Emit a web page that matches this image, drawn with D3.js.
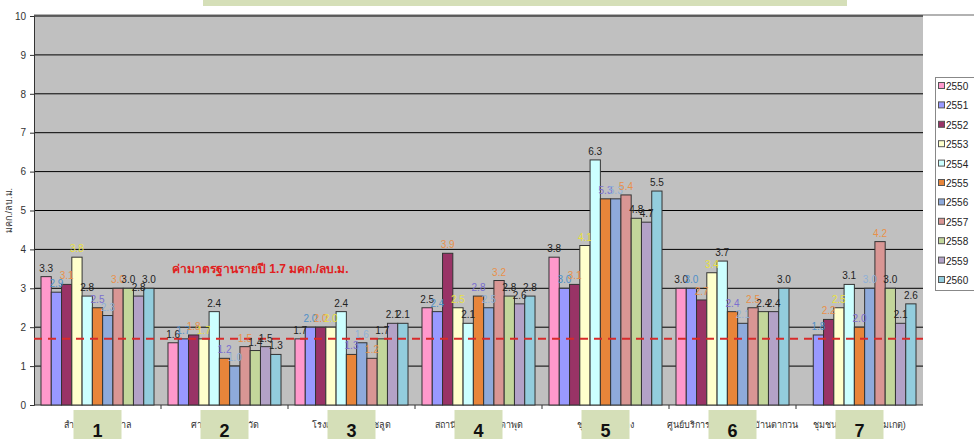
<!DOCTYPE html>
<html><head><meta charset="utf-8">
<script src="https://cdn.jsdelivr.net/npm/d3@7"></script>
<style>body{margin:0;background:#fff;}svg{display:block;font-family:"Liberation Sans",Arial,sans-serif;}</style>
</head><body>
<svg id="c" width="974" height="439"></svg>
<script>
const categories = ["สำนักงานเทศบาล","ศาลากลางจังหวัด","โรงเรียนวัดมาบชลูด","สถานีอนามัยมาบตาพุด","ชุมชนบ้านพลง","ศูนย์บริการสาธารณสุขบ้านตากวน","ชุมชนมิตรภาพ (นมเกตุ)"];
const groupNumbers = ["1","2","3","4","5","6","7"];
const years = ["2550","2551","2552","2553","2554","2555","2556","2557","2558","2559","2560"];
const v2550 = [3.3,1.6,1.7,2.5,3.8,3.0,null];
const v2551 = [2.9,1.7,2.0,2.4,3.0,3.0,1.8];
const v2552 = [3.1,1.8,2.0,3.9,3.1,2.7,2.2];
const v2553 = [3.8,1.7,2.0,2.5,4.1,3.4,2.5];
const v2554 = [2.8,2.4,2.4,2.1,6.3,3.7,3.1];
const v2555 = [2.5,1.2,1.3,2.8,5.3,2.4,2.0];
const v2556 = [2.3,1.0,1.6,2.5,5.3,2.1,3.0];
const v2557 = [3.0,1.5,1.2,3.2,5.4,2.5,4.2];
const v2558 = [3.0,1.4,1.7,2.8,4.8,2.4,3.0];
const v2559 = [2.8,1.5,2.1,2.6,4.7,2.4,2.1];
const v2560 = [3.0,1.3,2.1,2.8,5.5,3.0,2.6];
const seriesValues = [v2550,v2551,v2552,v2553,v2554,v2555,v2556,v2557,v2558,v2559,v2560];
const yTicks = [0,1,2,3,4,5,6,7,8,9,10];
const standardValue = 1.7;
const standardLabel = "ค่ามาตรฐานรายปี 1.7 มคก./ลบ.ม.";
const yTitle = "มคก./ลบ.ม.";

const barColors = ["#ff99cc","#9999ff","#993366","#ffffcc","#ccffff","#e8853a","#8eaadb","#d99694","#c3d69b","#b3a2c7","#93cddd"];
const labelColors = ["#222","#4f8fc8","#e8904a","#e8e040","#222","#7a6fd0","#8fb0d8","#e8904a","#222","#222","#222"];

const svg = d3.select("#c");
const L=34,R=923,T=16,B=405;
const x0 = d3.scaleBand().domain(categories).range([L,R]).padding(0);
const x1 = d3.scaleBand().domain(years).range([0,x0.bandwidth()]).paddingInner(0).paddingOuter(0.68);
const y = d3.scaleLinear().domain([0,10]).range([B,T]);

// top decoration
svg.append("rect").attr("x",203).attr("y",0).attr("width",644).attr("height",6).attr("fill","#d5dfb8");
// plot background
svg.append("rect").attr("x",L).attr("y",T).attr("width",R-L).attr("height",B-T).attr("fill","#c0c0c0");
svg.append("line").attr("x1",L).attr("x2",974).attr("y1",T-1).attr("y2",T-1).attr("stroke","#999").attr("stroke-width",1.5);
// gridlines
svg.append("g").selectAll("line").data(yTicks.slice(1)).join("line")
  .attr("x1",L).attr("x2",R).attr("y1",d=>y(d)).attr("y2",d=>y(d)).attr("stroke","#000").attr("stroke-width",1);

// y axis
const ya = svg.append("g").attr("transform",`translate(${L},0)`).call(d3.axisLeft(y).tickValues(yTicks).tickSize(4).tickPadding(4));
ya.select(".domain").attr("stroke","#333");
ya.selectAll("text").attr("font-size",10).attr("fill","#333").attr("font-family","Liberation Sans, Arial");
ya.selectAll(".tick line").attr("stroke","#333");
svg.append("text").attr("transform",`translate(12,${(T+B)/2}) rotate(-90)`).attr("text-anchor","middle")
  .attr("font-size",9).attr("fill","#333").text(yTitle);

// x axis
svg.append("line").attr("x1",L).attr("x2",R).attr("y1",B).attr("y2",B).attr("stroke","#333");
svg.append("g").selectAll("line").data(categories.slice(1)).join("line")
  .attr("x1",d=>x0(d)).attr("x2",d=>x0(d)).attr("y1",B).attr("y2",B+4).attr("stroke","#333");

// bars
const g = svg.append("g");
years.forEach((yr,si)=>{
  const data = categories.map((c,ci)=>({c,v:seriesValues[si][ci]})).filter(d=>d.v!=null);
  g.append("g").selectAll("rect").data(data).join("rect")
    .attr("x",d=>x0(d.c)+x1(yr)).attr("width",x1.bandwidth())
    .attr("y",d=>y(d.v)).attr("height",d=>B-y(d.v))
    .attr("fill",barColors[si]).attr("stroke","#333").attr("stroke-width",1);
});

// standard line
svg.append("line").attr("x1",L).attr("x2",R).attr("y1",y(standardValue)).attr("y2",y(standardValue))
  .attr("stroke","#d82a2a").attr("stroke-width",2).attr("stroke-dasharray","8,6");
svg.append("text").attr("x",172).attr("y",y(3.4)).attr("font-size",12).attr("font-weight","bold")
  .attr("fill","#e02020").text(standardLabel);

// labels
const lg = svg.append("g");
years.forEach((yr,si)=>{
  const data = categories.map((c,ci)=>({c,v:seriesValues[si][ci]})).filter(d=>d.v!=null);
  lg.append("g").selectAll("text").data(data).join("text")
    .attr("x",d=>x0(d.c)+x1(yr)+x1.bandwidth()/2).attr("y",d=>y(d.v)-5)
    .attr("text-anchor","middle").attr("font-size",10).attr("fill",labelColors[si])
    .text(d=>d.v.toFixed(1));
});

// category labels
svg.append("g").selectAll("text").data(categories).join("text")
  .attr("x",d=>x0(d)+x0.bandwidth()/2).attr("y",B+23).attr("text-anchor","middle")
  .attr("font-size",9).attr("fill","#333").text(d=>d);
// number boxes
const nb = svg.append("g").selectAll("g").data(categories).join("g")
  .attr("transform",d=>`translate(${x0(d)+x0.bandwidth()/2},0)`);
nb.append("rect").attr("x",-24).attr("y",410).attr("width",48).attr("height",29).attr("fill","#d5dfb8");
nb.append("text").attr("y",437).attr("text-anchor","middle").attr("font-size",18).attr("font-weight","bold")
  .attr("fill","#111").text((d,i)=>groupNumbers[i]);

// legend
const leg = svg.append("g");
leg.append("rect").attr("x",935.5).attr("y",77.5).attr("width",45).attr("height",213).attr("fill","#fff").attr("stroke","#888");
const li = leg.selectAll("g").data(years).join("g").attr("transform",(d,i)=>`translate(938,${86+i*19.4})`);
li.append("rect").attr("x",0.5).attr("y",-3.5).attr("width",6).attr("height",6).attr("fill",(d,i)=>barColors[i]).attr("stroke","#555");
li.append("text").attr("x",8).attr("y",4).attr("font-size",10).attr("fill","#222").text(d=>d);
</script>
</body></html>
